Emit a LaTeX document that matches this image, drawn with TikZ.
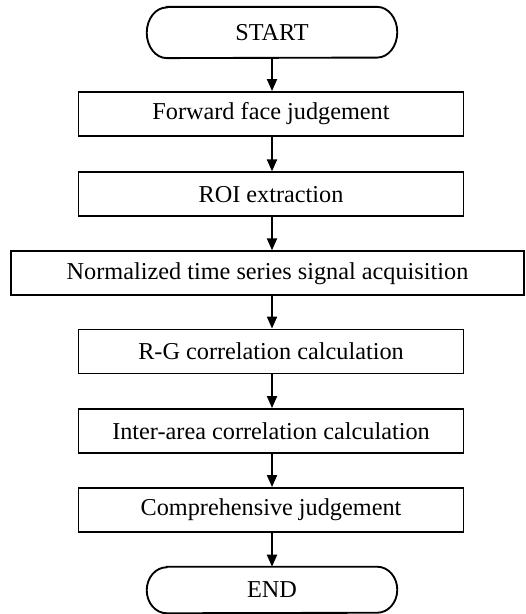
\documentclass[tikz,border=0pt]{standalone}
\usepackage{fontspec}
\setmainfont{Liberation Serif}
\usetikzlibrary{arrows.meta}
\begin{document}
\begin{tikzpicture}[x=0.75pt,y=0.75pt,
  every node/.style={font=\fontsize{18.2}{22}\selectfont, inner sep=0pt},
  procbox/.style={draw, line width=1.4pt, minimum width=288.75pt, minimum height=33pt},
  termin/.style={minimum width=187.5pt, minimum height=38pt},
  flow/.style={line width=1.4pt, -{Triangle[length=9pt,width=7.5pt]}}]
\useasboundingbox (0,0) rectangle (525,-614);
\node[termin] (start) at (272,-32.5) {START};
\node[procbox] (fwd) at (271,-114) {Forward face judgement};
\node[procbox] (roi) at (271,-194.3) {ROI extraction};
\node[procbox, minimum width=384.75pt] (norm) at (267.5,-273.3) {Normalized time series signal acquisition};
\node[procbox] (rg) at (271,-351.5) {R-G correlation calculation};
\node[procbox] (inter) at (271,-431) {Inter-area correlation calculation};
\node[procbox] (comp) at (271,-510) {Comprehensive judgement};
\node[termin, minimum height=34.5pt] (end) at (272,-590) {END};
\foreach \n/\h in {start/19, end/17.25}{
  \draw[line width=1.4pt] ([xshift=15pt]\n.north west) -- ([xshift=-15pt]\n.north east)
    arc[start angle=90,end angle=-90,x radius=15pt,y radius=\h pt]
    -- ([xshift=15pt]\n.south west)
    arc[start angle=270,end angle=90,x radius=15pt,y radius=\h pt] -- cycle;
}
\draw[flow] (start.south -| 272,0) -- (fwd.north -| 272,0);
\draw[flow] (fwd.south -| 272,0) -- (roi.north -| 272,0);
\draw[flow] (roi.south -| 272,0) -- (norm.north -| 272,0);
\draw[flow] (norm.south -| 272,0) -- (rg.north -| 272,0);
\draw[flow] (rg.south -| 272,0) -- (inter.north -| 272,0);
\draw[flow] (inter.south -| 272,0) -- (comp.north -| 272,0);
\draw[flow] (comp.south -| 272,0) -- (end.north -| 272,0);
\end{tikzpicture}
\end{document}
